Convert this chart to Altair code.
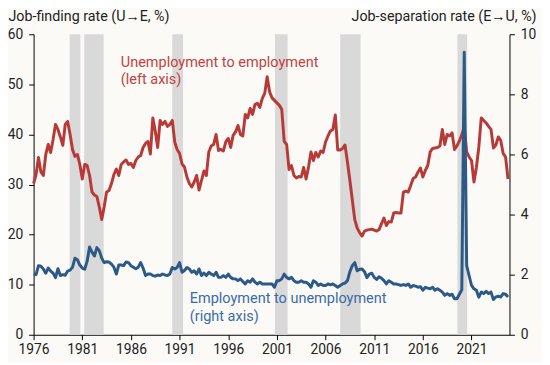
import altair as alt
import pandas as pd

# ---- data -------------------------------------------------------------
years = list(range(1976, 2025))
quarters = [y + q * 0.25 for y in years for q in range(4)]

# Unemployment -> employment (job-finding rate, %), quarterly 1976Q1..2024Q4
u_to_e = [
    30.2, 32.0, 35.4, 32.5,  # 1976
    31.8, 36.0, 38.0, 36.4,  # 1977
    39.0, 42.0, 41.0, 39.5,  # 1978
    37.8, 42.0, 42.6, 40.0,  # 1979
    37.0, 35.6, 36.0, 34.0,  # 1980
    31.1, 34.0, 33.8, 31.8,  # 1981
    28.5, 27.9, 27.6, 25.5,  # 1982
    23.0, 25.5, 28.5, 28.8,  # 1983
    30.2, 32.0, 33.1, 31.8,  # 1984
    34.0, 34.5, 34.9, 34.0,  # 1985
    34.2, 33.4, 34.8, 35.5,  # 1986
    35.8, 37.4, 38.2, 38.6,  # 1987
    36.1, 43.3, 40.7, 37.4,  # 1988
    42.8, 42.0, 42.6, 41.6,  # 1989
    42.0, 42.8, 38.5, 37.0,  # 1990
    36.2, 34.1, 33.5, 31.5,  # 1991
    30.2, 29.5, 30.5, 31.8,  # 1992
    28.9, 30.8, 32.7, 31.8,  # 1993
    36.5, 37.7, 38.0, 40.0,  # 1994
    36.8, 37.0, 36.7, 38.5,  # 1995
    39.2, 37.4, 39.8, 40.5,  # 1996
    41.8, 40.0, 39.7, 44.0,  # 1997
    43.3, 45.2, 44.0, 46.0,  # 1998
    46.2, 45.4, 47.2, 48.2,  # 1999
    51.5, 48.5, 47.3, 46.8,  # 2000
    46.3, 45.8, 45.0, 38.6,  # 2001
    38.0, 33.0, 33.8, 31.8,  # 2002
    31.3, 31.6, 31.5, 33.4,  # 2003
    31.1, 33.5, 36.5, 34.8,  # 2004
    36.4, 35.5, 36.7, 36.4,  # 2005
    38.5, 39.7, 40.7, 41.0,  # 2006
    43.9, 36.9, 36.9, 37.2,  # 2007
    37.9, 34.5, 30.8, 26.9,  # 2008
    23.0, 21.3, 20.4, 19.7,  # 2009
    20.7, 20.9, 21.0, 21.1,  # 2010
    20.9, 20.7, 21.0, 22.2,  # 2011
    23.3, 21.8, 22.6, 22.5,  # 2012
    24.3, 24.4, 24.3, 24.3,  # 2013
    28.5, 28.7, 28.5, 29.8,  # 2014
    31.2, 31.5, 32.5, 33.3,  # 2015
    31.5, 32.8, 33.8, 36.5,  # 2016
    37.2, 37.3, 37.4, 37.7,  # 2017
    41.0, 38.0, 40.0, 39.7,  # 2018
    40.3, 37.0, 37.7, 38.7,  # 2019
    40.0, 41.5, 36.5, 35.5,  # 2020
    34.8, 30.5, 33.4, 37.5,  # 2021
    43.3, 42.8, 42.3, 41.6,  # 2022
    41.0, 37.3, 37.9, 39.5,  # 2023
    38.8, 36.2, 35.5, 31.1,  # 2024
]

# Employment -> unemployment (job-separation rate, %)
e_to_u = [
    2.02, 2.00, 2.30, 2.28,  # 1976
    2.19, 2.05, 2.22, 2.12,  # 1977
    2.05, 1.90, 2.20, 1.97,  # 1978
    2.00, 1.98, 2.12, 2.15,  # 1979
    2.25, 2.55, 2.50, 2.32,  # 1980
    2.22, 2.18, 2.45, 2.92,  # 1981
    2.75, 2.62, 2.90, 2.80,  # 1982
    2.55, 2.40, 2.43, 2.42,  # 1983
    2.35, 2.25, 2.02, 2.32,  # 1984
    2.32, 2.30, 2.42, 2.40,  # 1985
    2.30, 2.25, 2.20, 2.25,  # 1986
    2.40, 2.22, 1.97, 2.02,  # 1987
    2.02, 1.97, 1.95, 1.99,  # 1988
    1.97, 2.02, 1.99, 1.97,  # 1989
    2.02, 2.24, 2.19, 2.24,  # 1990
    2.40, 2.08, 2.14, 2.24,  # 1991
    2.19, 2.08, 2.13, 2.02,  # 1992
    2.19, 1.97, 2.05, 1.97,  # 1993
    2.08, 2.02, 1.97, 2.08,  # 1994
    1.91, 1.91, 1.97, 1.91,  # 1995
    2.02, 1.91, 1.86, 1.86,  # 1996
    1.80, 1.86, 1.77, 1.69,  # 1997
    1.80, 1.75, 1.86, 1.75,  # 1998
    1.69, 1.75, 1.69, 1.69,  # 1999
    1.69, 1.69, 1.69, 1.58,  # 2000
    1.80, 1.80, 1.86, 2.02,  # 2001
    1.91, 1.86, 1.91, 1.80,  # 2002
    1.75, 1.75, 1.80, 1.75,  # 2003
    1.75, 1.69, 1.58, 1.80,  # 2004
    1.75, 1.64, 1.69, 1.64,  # 2005
    1.64, 1.69, 1.66, 1.69,  # 2006
    1.64, 1.58, 1.64, 1.69,  # 2007
    1.72, 1.80, 2.10, 2.30,  # 2008
    2.40, 2.13, 2.18, 2.19,  # 2009
    2.10, 1.90, 2.02, 2.05,  # 2010
    1.91, 1.84, 1.93, 1.88,  # 2011
    1.80, 1.69, 1.80, 1.75,  # 2012
    1.69, 1.69, 1.67, 1.64,  # 2013
    1.67, 1.64, 1.69, 1.58,  # 2014
    1.64, 1.62, 1.58, 1.60,  # 2015
    1.48, 1.58, 1.55, 1.53,  # 2016
    1.58, 1.48, 1.53, 1.48,  # 2017
    1.42, 1.31, 1.37, 1.31,  # 2018
    1.35, 1.20, 1.20, 1.35,  # 2019
    1.50, 9.40, 2.30, 1.97,  # 2020
    1.64, 1.53, 1.48, 1.25,  # 2021
    1.42, 1.37, 1.45, 1.37,  # 2022
    1.42, 1.17, 1.26, 1.28,  # 2023
    1.26, 1.37, 1.35, 1.26,  # 2024
]

recession_start = [1979.7, 1981.2, 1990.25, 2000.8, 2007.5, 2019.55]
recession_end = [1980.8, 1983.2, 1991.35, 2002.1, 2009.6, 2020.55]

x_tick_years = list(range(1976, 2022, 5))
left_ticks = [0, 10, 20, 30, 40, 50, 60]
right_ticks = [0, 2, 4, 6, 8, 10]

red_labels = ["Unemployment to employment", "(left axis)"]
blue_labels = ["Employment to unemployment", "(right axis)"]

# ---- style ------------------------------------------------------------
FONT = "Roboto"
RED = "#b73a38"
BLUE = "#2b5a88"
RED_TXT = "#c0433f"
BLUE_TXT = "#3a6ca6"
INK = "#222222"
BG = "#fbfaf6"

df = pd.DataFrame({"t": quarters, "ue": u_to_e, "eu": e_to_u})
rec = pd.DataFrame({"start": recession_start, "end": recession_end})
red_ann = pd.DataFrame({"t": [1984.96, 1984.96], "v": [53.5, 49.97], "label": red_labels})
blue_ann = pd.DataFrame({"t": [1992.05, 1992.05], "v": [1.05, 0.47], "label": blue_labels})

x_scale = alt.Scale(domain=[1976, 2024.9], nice=False, zero=False)
x_axis = alt.Axis(values=x_tick_years, format="d", title=None, grid=False,
                  tickSize=5, labelPadding=3, labelFlush=False)

left_scale = alt.Scale(domain=[0, 60], nice=False)
left_axis = alt.Axis(orient="left", values=left_ticks, grid=False, tickSize=5,
                     labelPadding=6, title="Job-finding rate (U→E, %)",
                     titleAngle=0, titleAlign="left", titleBaseline="alphabetic",
                     titleX=-26, titleY=-13.5, titleLimit=400)

right_scale = alt.Scale(domain=[0, 10], nice=False)
right_axis = alt.Axis(orient="right", values=right_ticks, grid=False, tickSize=5,
                      labelPadding=6, title="Job-separation rate (E→U, %)",
                      titleAngle=0, titleAlign="right", titleBaseline="alphabetic",
                      titleX=27, titleY=-13.5, titleLimit=400)

bars = alt.Chart(rec).mark_rect(color="#d9d9d9").encode(
    x=alt.X("start:Q", scale=x_scale, axis=x_axis),
    x2="end:Q",
    y=alt.YDatum(0, scale=left_scale, axis=left_axis),
    y2=alt.Y2Datum(60),
)

red_line = alt.Chart(df).mark_line(color=RED, strokeWidth=3, strokeJoin="round").encode(
    x=alt.X("t:Q", scale=x_scale, axis=x_axis),
    y=alt.Y("ue:Q", scale=left_scale, axis=left_axis),
)

red_text = alt.Chart(red_ann).mark_text(
    align="left", baseline="alphabetic", font=FONT, fontSize=14.7, color=RED_TXT
).encode(
    x=alt.X("t:Q", scale=x_scale, axis=x_axis),
    y=alt.Y("v:Q", scale=left_scale, axis=left_axis),
    text="label:N",
)

blue_line = alt.Chart(df).mark_line(color=BLUE, strokeWidth=3, strokeJoin="round").encode(
    x=alt.X("t:Q", scale=x_scale, axis=x_axis),
    y=alt.Y("eu:Q", scale=right_scale, axis=right_axis),
)

blue_text = alt.Chart(blue_ann).mark_text(
    align="left", baseline="alphabetic", font=FONT, fontSize=14.7, color=BLUE_TXT
).encode(
    x=alt.X("t:Q", scale=x_scale, axis=x_axis),
    y=alt.Y("v:Q", scale=right_scale, axis=right_axis),
    text="label:N",
)

left = alt.layer(bars, red_line, red_text)
right = alt.layer(blue_line, blue_text)

chart = (
    alt.layer(left, right)
    .resolve_scale(y="independent")
    .properties(
        width=483, height=305,
        autosize=alt.AutoSizeParams(type="none"),
        padding={"left": 26, "top": 24, "right": 33, "bottom": 26},
        background=BG,
    )
    .configure_view(stroke=None)
    .configure_axis(
        domainColor="#000000", tickColor="#000000", domainWidth=1, tickWidth=1,
        labelFont=FONT, labelFontSize=14, labelColor=INK,
        titleFont=FONT, titleFontSize=14.5, titleFontWeight="normal", titleColor=INK,
    )
)

chart.save("out.html", embed_options={"renderer": "svg", "actions": False})
